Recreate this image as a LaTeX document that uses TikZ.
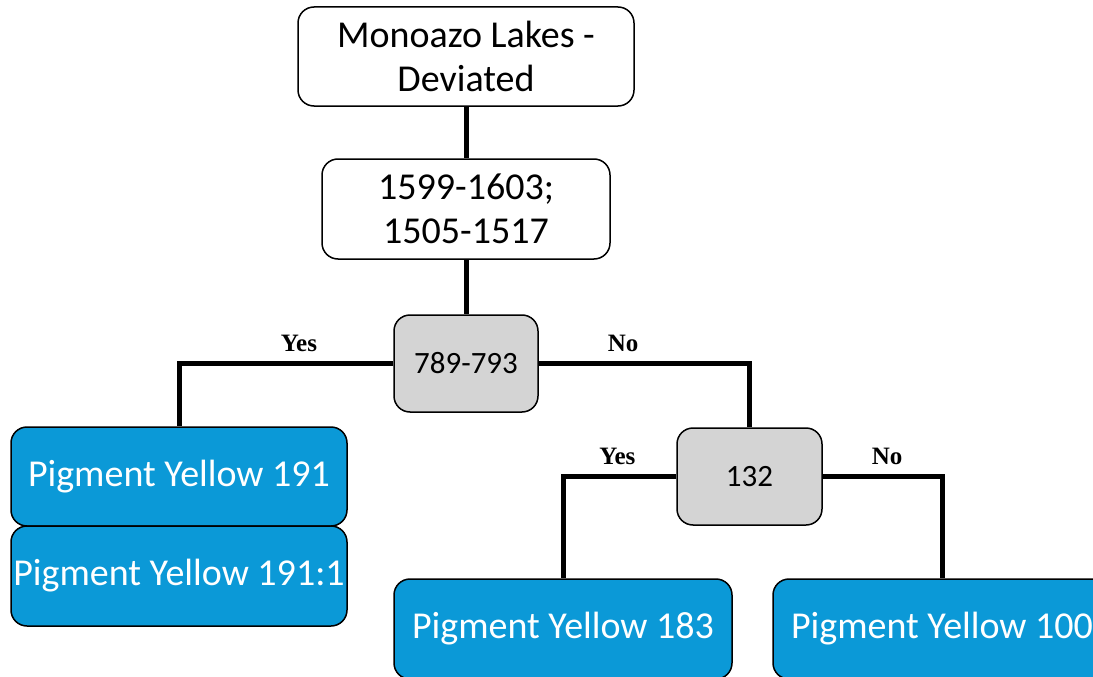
\documentclass[tikz,border=0pt]{standalone}
\usepackage{fontspec}
\setmainfont{Carlito}
\newfontfamily\answerfont{Liberation Serif}
\usetikzlibrary{positioning}

\definecolor{pigblue}{RGB}{11,153,215}
\definecolor{testgray}{RGB}{212,212,212}

\tikzset{
    box/.style={draw, line width=1.5pt, rounded corners=16pt, align=center, inner sep=0pt,
        font=\fontsize{38}{44}\selectfont},
    test/.style={box, fill=testgray, minimum width=144pt, minimum height=97pt,
        font=\fontsize{31}{36}\selectfont},
    pigment/.style={box, fill=pigblue, text=white, minimum width=336pt, minimum height=99pt},
    branch/.style={line width=5pt},
    answer/.style={font=\answerfont\bfseries\fontsize{25}{28}\selectfont, above=8pt, inner sep=1pt},
}

\begin{document}
\begin{tikzpicture}
    \useasboundingbox (0,0) rectangle (1093pt,-677pt);
    \clip (0,0) rectangle (1093pt,-677pt);

    \node[box, minimum width=336pt, minimum height=99pt] (Class) at (466pt,-56.5pt) {Monoazo Lakes -\\Deviated};
    \node[box, minimum width=288pt, minimum height=100pt, below=51.5pt of Class] (Band 1) {1599-1603;\\1505-1517};
    \node[test, below=54.5pt of Band 1]                     (Band 2)   {789-793};
    \node[pigment, below=13.5pt of Band 2, xshift=-287pt]   (PY 191)   {Pigment Yellow 191};
    \node[pigment, minimum height=100pt, below=-1.5pt of PY 191] (PY 191 b) {Pigment Yellow 191:1};
    \node[test, minimum width=145pt, right=328.5pt of PY 191] (Band 3) {132};
    \node[pigment, minimum width=338pt, minimum height=100pt, below=52.5pt of Band 3, xshift=-186.5pt] (PY 183) {Pigment Yellow 183};
    \node[pigment, minimum width=338pt, minimum height=100pt, right=39.5pt of PY 183] (PY 100) {Pigment Yellow 100};

    \draw[branch] (Class) -- (Band 1);
    \draw[branch] (Band 1) -- (Band 2);
    \draw[branch] (Band 2.west) -| node[answer, pos=0.22] {Yes} (PY 191.north);
    \draw[branch] (Band 2.east) -| node[answer, pos=0.2] {No} (Band 3.north);
    \draw[branch] (Band 3.west) -| node[answer, pos=0.26] {Yes} (PY 183.north);
    \draw[branch] (Band 3.east) -| node[answer, pos=0.27] {No} (PY 100.north);
\end{tikzpicture}
\end{document}
